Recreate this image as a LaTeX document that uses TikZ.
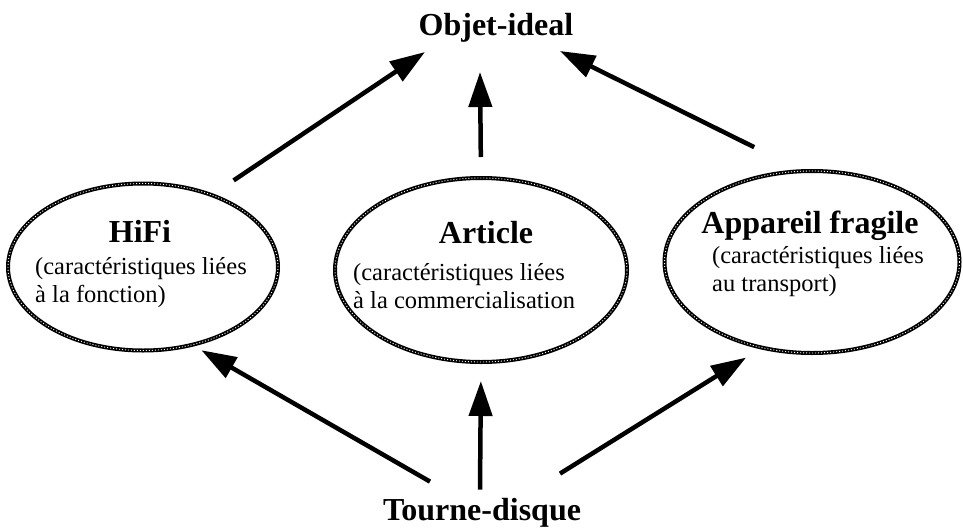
\documentclass[tikz,border=0pt]{standalone}
\usepackage{fontspec}
\setmainfont{Liberation Serif}
\usepackage{tikz}
\usetikzlibrary{shapes.geometric}
\usetikzlibrary{arrows.meta}
\tikzset{cadre/.style={ellipse, draw=black, line width=4pt, inner sep=0pt,
  postaction={draw=white, line width=0.9pt, dash pattern=on 1pt off 2pt}}}
\tikzset{titre/.style={font=\bfseries\fontsize{32}{36}\selectfont, inner sep=2pt}}
\tikzset{legende/.style={font=\fontsize{24.5}{28}\selectfont, align=left, inner sep=0pt}}
\tikzset{fleche/.style={line width=4.5pt, -{Triangle[length=35pt,width=23pt]}}}

\begin{document}
\begin{tikzpicture}[x=1pt,y=-1pt]
{
\useasboundingbox (0,0) rectangle (963,530);
\node[titre, anchor=base] (objet) at (496,35) {Objet-ideal};
\node[titre, anchor=base] (tourne) at (482,520) {Tourne-disque};

\node[cadre, minimum width=270pt, minimum height=167pt] (hifi) at (143,267) {};
\node[cadre, minimum width=292pt, minimum height=184pt] (article) at (481,270) {};
\node[cadre, minimum width=295pt, minimum height=182pt] (fragile) at (812,262) {};

% base = baseline of the last line
\node[titre, anchor=base] (hifititre) at (140,242) {HiFi};
\node[legende, anchor=base west] (hifitexte) at (35,302) {(caractéristiques liées\\à la fonction)};
\node[titre, anchor=base] (articletitre) at (486,243) {Article};
\node[legende, anchor=base west] (articletexte) at (353,308) {(caractéristiques liées\\à la commercialisation};
\node[titre, anchor=base] (fragiletitre) at (810,233) {Appareil fragile};
\node[legende, anchor=base west] (fragiletexte) at (712,291) {(caractéristiques liées\\au transport)};

%\draw (objet) -- (tourne);
\draw[fleche, shorten <=24pt] (hifi.46) -- ([shift={(-71,8)}]objet.south);
\draw[fleche, shorten <=19pt] (article.north) -- ([shift={(-16,28)}]objet.south);
\draw[fleche, shorten <=50pt] (fragile.98) -- ([shift={(64,7)}]objet.south);
\draw[fleche, shorten >=8pt] ([shift={(-52,-14)}]tourne.north) -- (hifi.-57);
\draw[fleche, shorten >=17pt] ([shift={(-2,-6)}]tourne.north) -- (article.south);
\draw[fleche, shorten >=16pt] ([shift={(78,-22)}]tourne.north) -- (fragile.-121);
}
\end{tikzpicture}
\end{document}
